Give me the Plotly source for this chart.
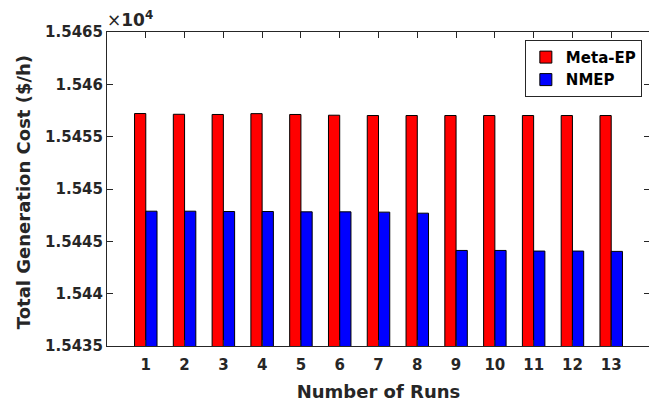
import plotly.graph_objects as go

runs = list(range(1, 14))
meta_ep = [15457.21, 15457.14, 15457.12, 15457.20, 15457.12, 15457.05, 15457.02,
           15457.02, 15457.02, 15457.02, 15457.02, 15457.02, 15457.02]
nmep = [15447.88, 15447.88, 15447.85, 15447.85, 15447.82, 15447.82, 15447.79,
        15447.69, 15444.13, 15444.13, 15444.07, 15444.07, 15444.04]

y_tickvals = [15435, 15440, 15445, 15450, 15455, 15460, 15465]
y_ticktext = ["1.5435", "1.544", "1.5445", "1.545", "1.5455", "1.546", "1.5465"]

FONT = "DejaVu Sans"
TXT = "#262626"

fig = go.Figure()
fig.add_trace(go.Bar(x=runs, y=meta_ep, name="Meta-EP",
                     marker=dict(color="#ff0000", line=dict(color="#000000", width=1))))
fig.add_trace(go.Bar(x=runs, y=nmep, name="NMEP",
                     marker=dict(color="#0000ff", line=dict(color="#000000", width=1))))

# page body has an 8px default margin, so the figure is shrunk by 8px
fig.update_layout(
    width=649, height=396,
    margin=dict(l=99, r=7, t=24, b=58),
    paper_bgcolor="white", plot_bgcolor="white",
    barmode="group", bargap=0.42, bargroupgap=0,
    font=dict(family=FONT, color=TXT),
    showlegend=True,
    legend=dict(x=0.985, y=0.975, xanchor="right", yanchor="top",
                bordercolor="#262626", borderwidth=1, bgcolor="white",
                font=dict(family=FONT, size=15, color="#000000", weight="bold"),
                tracegroupgap=0, itemwidth=30),
)
fig.update_xaxes(
    range=[0, 14], tickvals=runs, ticktext=[str(r) for r in runs],
    ticks="inside", ticklen=6, tickcolor=TXT, showline=True, linecolor=TXT, linewidth=1,
    mirror="ticks", showgrid=False, zeroline=False, automargin=False,
    ticklabelstandoff=5,
    tickfont=dict(family=FONT, size=15, color=TXT, weight="bold"),
    title=dict(text="Number of Runs", font=dict(family=FONT, size=18, color=TXT, weight="bold"),
               standoff=12),
)
fig.update_yaxes(
    range=[15435, 15465], tickvals=y_tickvals, ticktext=y_ticktext,
    ticks="inside", ticklen=6, tickcolor=TXT, showline=True, linecolor=TXT, linewidth=1,
    mirror="ticks", showgrid=False, zeroline=False, automargin=False,
    tickfont=dict(family=FONT, size=15, color=TXT, weight="bold"),
)
fig.add_annotation(xref="paper", yref="paper", x=0, y=0.49, xanchor="center", yanchor="middle",
                   xshift=-84, textangle=-90, showarrow=False,
                   text="Total Generation Cost ($/h)",
                   font=dict(family=FONT, size=18, color=TXT, weight="bold"))
fig.add_annotation(xref="paper", yref="paper", x=0, y=1, xanchor="left", yanchor="bottom",
                   text="×<b>10</b><sup><b>4</b></sup>", showarrow=False, yshift=0, xshift=-2,
                   font=dict(family=FONT, size=17, color=TXT))

fig.write_html("out.html")
